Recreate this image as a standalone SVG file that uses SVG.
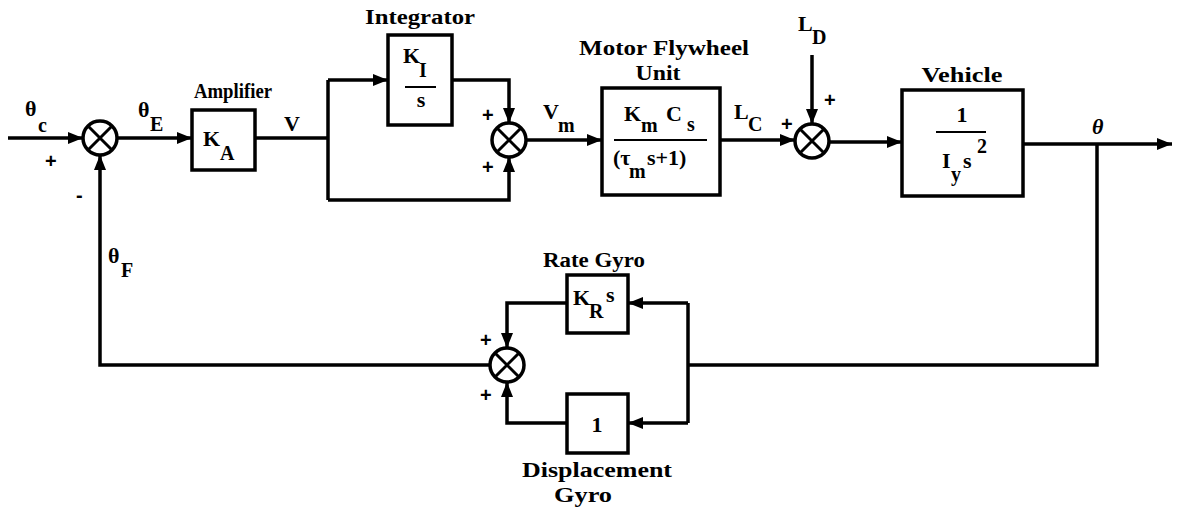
<svg xmlns="http://www.w3.org/2000/svg" width="1179" height="510" viewBox="0 0 1179 510">
<style>
.w{fill:none;stroke:#000;stroke-width:3.5;stroke-linejoin:miter}
.a{marker-end:url(#ah)}
.b{fill:#fff;stroke:#000;stroke-width:3.5}
.sj circle{fill:#fff;stroke:#000;stroke-width:3.5}
.sj path{stroke:#000;stroke-width:3}
text{font-family:"Liberation Serif","Times New Roman",serif;font-weight:bold;font-size:22px;fill:#000}
.lb{text-anchor:middle;font-size:20px}
.sg{font-size:20px;font-family:"Liberation Sans",sans-serif}
.sub{font-size:20px}
</style>
<defs>
<marker id="ah" markerUnits="userSpaceOnUse" markerWidth="16" markerHeight="14" refX="15" refY="7" orient="auto">
<path d="M0,1 L15,7 L0,13 Z" fill="#000"/>
</marker>
</defs>
<g id="connectors">
<path class="w a" d="M8,138 H83"/>
<path class="w a" d="M117,138 H192"/>
<path class="w" d="M255,138 H328"/>
<path class="w" d="M328,80 V200"/>
<path class="w a" d="M328,80 H388"/>
<path class="w a" d="M452,80 H509 V123"/>
<path class="w a" d="M328,200 H509 V157"/>
<path class="w a" d="M526,140 H602"/>
<path class="w a" d="M720,140 H795"/>
<path class="w a" d="M812,55 V124"/>
<path class="w a" d="M829,142 H902"/>
<path class="w a" d="M1023,144 H1172"/>
<path class="w" d="M1097,144 V365 H688"/>
<path class="w" d="M688,303 V423"/>
<path class="w a" d="M688,303 H628"/>
<path class="w a" d="M688,423 H628"/>
<path class="w a" d="M567,303 H507 V348"/>
<path class="w a" d="M567,423 H507 V382"/>
<path class="w a" d="M490,365 H100 V155"/>
</g>
<g id="input-labels">
<text x="25" y="116">θ</text><text class="sub" x="38" y="132">c</text>
<text class="sg" x="45" y="168">+</text>
<text class="sg" x="76" y="202">-</text>
</g>
<g id="sum1" class="sj"><circle cx="100" cy="138" r="17"/><path d="M88,126 L112,150 M112,126 L88,150"/></g>
<g id="errlabel"><text x="138" y="117">θ</text><text class="sub" x="150" y="131">E</text></g>
<g id="amplifier">
<text class="lb" x="233" y="98" textLength="78" lengthAdjust="spacingAndGlyphs">Amplifier</text>
<rect class="b" x="192" y="110" width="63" height="60"/>
<text x="203" y="146">K</text><text class="sub" x="220" y="160">A</text>
</g>
<g id="vlabel"><text x="284" y="131">V</text></g>
<g id="integrator">
<text class="lb" x="420" y="24" textLength="110" lengthAdjust="spacingAndGlyphs">Integrator</text>
<rect class="b" x="388" y="35" width="64" height="90"/>
<text x="403" y="63">K</text><text class="sub" x="419" y="77">I</text>
<path d="M405,87 H436" stroke="#000" stroke-width="2"/>
<text class="lb" x="421" y="107" style="font-size:22px">s</text>
</g>
<g id="sum2" class="sj"><circle cx="509" cy="140" r="17"/><path d="M497,128 L521,152 M521,128 L497,152"/>
<text class="sg" x="482" y="122">+</text><text class="sg" x="482" y="174">+</text></g>
<g id="vmlabel"><text x="543" y="119">V</text><text class="sub" x="558" y="132">m</text></g>
<g id="motor">
<text class="lb" x="664" y="55" textLength="170" lengthAdjust="spacingAndGlyphs">Motor Flywheel</text>
<text class="lb" x="658" y="80" textLength="45" lengthAdjust="spacingAndGlyphs">Unit</text>
<rect class="b" x="602" y="88" width="118" height="107"/>
<text x="624" y="121">K</text><text class="sub" x="641" y="132">m</text>
<text x="666" y="121">C</text><text class="sub" x="687" y="131">s</text>
<path d="M614,140 H707" stroke="#000" stroke-width="2"/>
<text x="613" y="165">(τ</text><text class="sub" x="629" y="178">m</text><text x="647" y="165">s+1)</text>
</g>
<g id="lclabel"><text x="734" y="119">L</text><text class="sub" x="748" y="131">C</text>
<text class="sg" x="781" y="131">+</text></g>
<g id="sum3" class="sj"><circle cx="812" cy="141" r="17"/><path d="M800,129 L824,153 M824,129 L800,153"/></g>
<g id="ldlabel"><text x="798" y="31">L</text><text class="sub" x="812" y="44">D</text>
<text class="sg" x="824" y="107">+</text></g>
<g id="vehicle">
<text class="lb" x="962" y="82" textLength="81" lengthAdjust="spacingAndGlyphs">Vehicle</text>
<rect class="b" x="902" y="90" width="121" height="106"/>
<text x="962" y="122" text-anchor="middle">1</text>
<path d="M936,132 H986" stroke="#000" stroke-width="2"/>
<text x="942" y="168">I</text><text class="sub" x="951" y="181">y</text>
<text x="963" y="168">s</text><text class="sub" x="977" y="153">2</text>
</g>
<g id="outlabel"><text x="1092" y="134" font-style="italic">θ</text></g>
<g id="fblabel"><text x="108" y="263">θ</text><text class="sub" x="121" y="277">F</text></g>
<g id="rategyro">
<text class="lb" x="594" y="267" textLength="102" lengthAdjust="spacingAndGlyphs">Rate Gyro</text>
<rect class="b" x="567" y="275" width="61" height="58"/>
<text x="573" y="305">K</text><text class="sub" x="589" y="318">R</text><text x="606" y="302">s</text>
</g>
<g id="dispgyro">
<rect class="b" x="567" y="394" width="61" height="59"/>
<text x="597" y="432" text-anchor="middle">1</text>
<text class="lb" x="597" y="477" textLength="150" lengthAdjust="spacingAndGlyphs">Displacement</text>
<text class="lb" x="583" y="502" textLength="58" lengthAdjust="spacingAndGlyphs">Gyro</text>
</g>
<g id="sum4" class="sj"><circle cx="507" cy="365" r="17"/><path d="M495,353 L519,377 M519,353 L495,377"/>
<text class="sg" x="480" y="347">+</text><text class="sg" x="480" y="402">+</text></g>
</svg>
